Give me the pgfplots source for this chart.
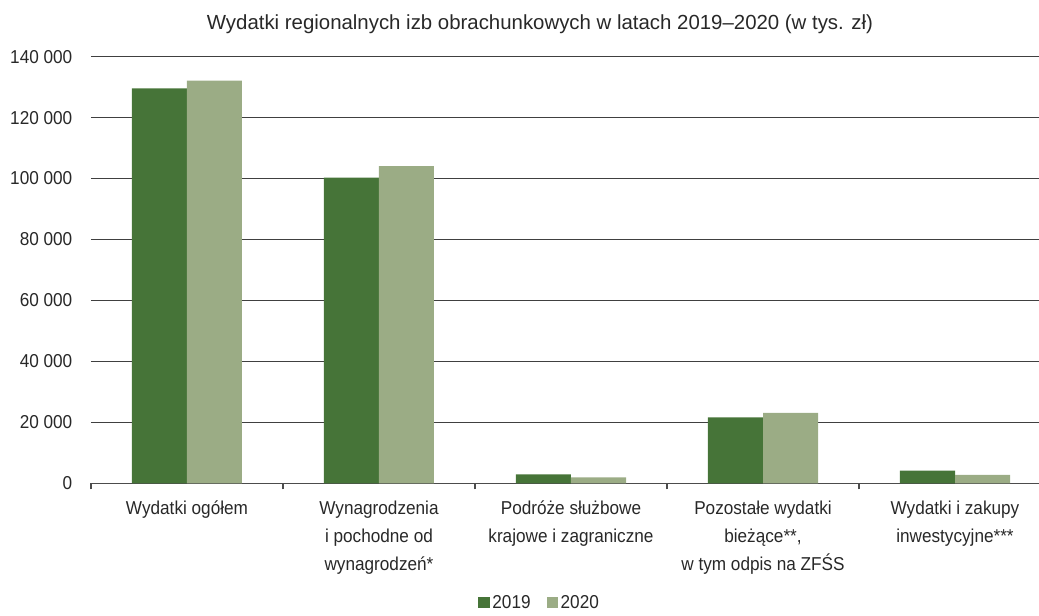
\documentclass[border=0pt]{standalone}
\usepackage{pgfplots}
\pgfplotsset{compat=1.18}
\usepackage{fontspec}
\setmainfont{Liberation Sans}[FakeStretch=0.92]
\newfontfamily\titlefont{Liberation Sans}
\definecolor{dk}{RGB}{70,116,56}
\definecolor{lt}{RGB}{155,172,133}
\definecolor{txt}{RGB}{40,40,40}
\begin{document}
\begin{tikzpicture}
\path[use as bounding box] (-68.25pt,-99.5pt) rectangle (711pt,362.5pt);
\begin{axis}[
  at={(0pt,0pt)}, anchor=south west,
  scale only axis, width=720pt, height=320pt,
  xmin=-0.5, xmax=4.5, ymin=0, ymax=140000,
  ybar=0pt, bar width=41.25pt,
  font=\fontsize{14}{19.5}\selectfont,
  every tick label/.append style={text=txt},
  axis x line*=bottom, axis y line*=left,
  y axis line style={draw=none},
  x axis line style={draw=black!70, line width=0.9pt},
  scaled y ticks=false,
  ytick={0,20000,40000,60000,80000,100000,120000,140000},
  yticklabels={0,20 000,40 000,60 000,80 000,100 000,120 000,140 000},
  ytick style={draw=none},
  ymajorgrids, grid style={draw=black!75, line width=0.75pt},
  xtick={0,1,2,3,4},
  xticklabels={Wydatki ogółem, {Wynagrodzenia\\[1.5pt]i pochodne od\\[1.5pt]wynagrodzeń*}, {Podróże służbowe\\[1.5pt]krajowe i zagraniczne}, {Pozostałe wydatki\\[1.5pt]bieżące**,\\[1.5pt]w tym odpis na ZFŚS}, {Wydatki i zakupy\\[1.5pt]inwestycyjne***}},
  minor xtick={-0.5,0.5,1.5,2.5,3.5,4.5},
  tick align=outside, major tick length=4.5pt, minor tick length=4.5pt,
  major x tick style={draw=none},
  minor x tick style={draw=black!70, line width=0.9pt},
  xticklabel style={align=center, anchor=north, yshift=-5pt, font=\fontsize{14}{19.5}\selectfont},
  yticklabel style={anchor=east, xshift=-6pt},
  title={Wydatki regionalnych izb obrachunkowych w latach 2019–2020 (w tys. zł)},
  title style={at={(0.4677,1.0578)}, anchor=center, yshift=0pt, text=txt, font=\titlefont\fontsize{15.3}{18}\selectfont},
  legend style={at={(0.4677,-0.2806)}, anchor=center, draw=none, legend columns=2, text=txt, inner sep=0pt,
    /tikz/every even column/.append style={column sep=10pt}},
  legend image code/.code={\fill[#1] (0pt,-4pt) rectangle (8.5pt,4.5pt);},
]
\addplot[fill=dk, draw=none] coordinates {(0,129600) (1,100300) (2,2950) (3,21600) (4,4200)};
\addplot[fill=lt, draw=none] coordinates {(0,132100) (1,104100) (2,1950) (3,23100) (4,2800)};
\legend{2019,2020}
\end{axis}
\end{tikzpicture}
\end{document}
